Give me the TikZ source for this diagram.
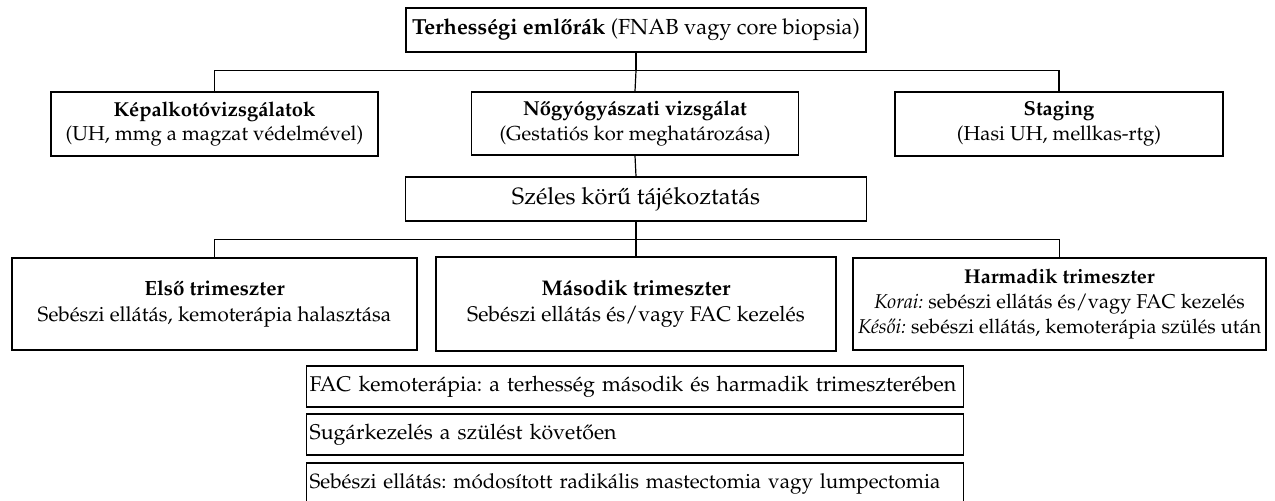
\documentclass[tikz,border=0pt]{standalone}
\usepackage[T1]{fontenc}
\usepackage{mathpazo}
\usepackage{tikz}

\begin{document}
\frenchspacing
\begin{tikzpicture}[x=.5pt, y=-.5pt, line width=.6pt,
  box/.style={draw, align=center, inner sep=2pt},
  meret/.style 2 args={font=\fontsize{#1}{#2}\selectfont},
  note/.style={draw, anchor=west, align=left, inner sep=1.5pt, text width=325.5pt, minimum height=20.5pt, meret={10.65}{12.8}}]
\clip (0,0) rectangle (1275,501);
\node[box, meret={10.9}{13}, minimum width=230pt, minimum height=22pt] (terh) at (636,30) {\textbf{Terhességi eml\H{o}rák} (FNAB vagy core biopsia)};
\node[box, meret={10.1}{12.4}, minimum width=163.5pt, minimum height=32pt] (kep) at (214.5,124) {\textbf{Képalkotóvizsgálatok}\\(UH, mmg a magzat védelmével)};
\node[box, meret={10.1}{12.4}, minimum width=163.5pt, minimum height=31.5pt] (nogy) at (635,123.5) {\textbf{N\H{o}gyógyászati vizsgálat}\\(Gestatiós kor meghatározása)};
\node[box, meret={10.1}{12.4}, minimum width=164pt, minimum height=32pt] (stag) at (1059,124) {\textbf{Staging}\\(Hasi UH, mellkas-rtg)};
\node[box, meret={11.8}{14}, minimum width=230.5pt, minimum height=22pt] (tajek) at (636,199) {Széles kör\H{u} tájékoztatás};
\node[box, meret={10.3}{12.8}, minimum width=202.5pt, minimum height=46pt] (elso) at (214.5,304) {\textbf{Els\H{o} trimeszter}\\Sebészi ellátás, kemoterápia halasztása};
\node[box, meret={10.6}{13}, minimum width=200pt, minimum height=47pt] (masod) at (636,304) {\textbf{Második trimeszter}\\Sebészi ellátás és/vagy FAC kezelés};
\node[box, meret={10}{12.5}, minimum width=206.5pt, minimum height=46pt] (harm) at (1059.5,304) {\textbf{Harmadik trimeszter}\\\textit{Korai:} sebészi ellátás és/vagy FAC kezelés\\\textit{Kés\H{o}i:} sebészi ellátás, kemoterápia szülés után};
\node[note] (fac) at (306,386.5) {FAC kemoterápia: a terhesség második és harmadik trimeszterében};
\node[note] (sugar) at (306,434.5) {Sugárkezelés a szülést követ\H{o}en};
\node[note, meret={10.3}{12.4}] (sebesz) at (306,483.5) {Sebészi ellátás: módosított radikális mastectomia vagy lumpectomia};
\draw (terh.south) -- ++(0,18) coordinate (felso);
\draw (kep.north) |- (felso) -| (stag.north);
\draw (felso) -- (nogy.north);
\draw (nogy.south) -- (tajek.north);
\draw (tajek.south) -- ++(0,18) coordinate (also);
\draw (elso.north) |- (also) -| (harm.north);
\draw (also) -- (masod.north);
\end{tikzpicture}
\end{document}
